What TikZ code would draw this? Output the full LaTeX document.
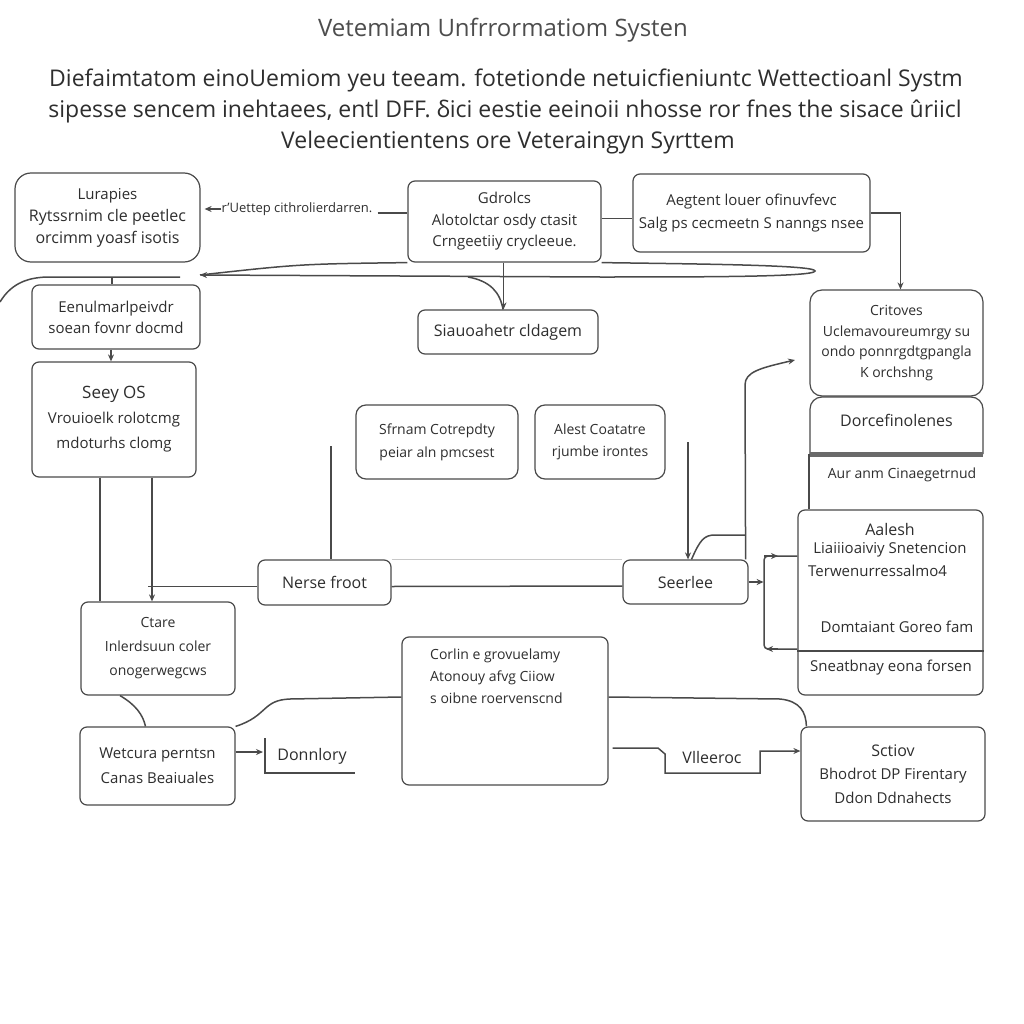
\documentclass[tikz,border=0pt]{standalone}
\usepackage{fontspec}
\setmainfont{Open Sans}
\usetikzlibrary{arrows.meta}

\definecolor{inkgray}{HTML}{2E2E2E}
\definecolor{linegray}{HTML}{4A4A4A}
\definecolor{bargray}{HTML}{6A6A6A}
\definecolor{faintgray}{HTML}{C8C8C8}

\newcommand{\fs}[2]{\fontsize{#1}{#2}\selectfont}

\tikzset{
  box/.style={draw=linegray, line width=1.2pt, rounded corners=7pt,
    align=center, inner sep=0pt, text=inkgray},
  conn/.style={draw=linegray, line width=1.5pt},
  tip/.style={-{Stealth[length=7pt,width=6pt]}},
  lbl/.style={text=inkgray, inner sep=0pt},
}

\begin{document}
\begin{tikzpicture}[x=1pt, y=-1pt]

% page: 1023 x 1024, pixel coordinates, y grows downward
\useasboundingbox (0,0) rectangle (1023,1024);
\fill[white] (0,0) rectangle (1023,1024);

% ── TITLES ───────────────────────────────────────────────────────────────
\node[lbl, text=inkgray!85, font=\fs{24}{28}] (title) at (503,30) {Vetemiam Unfrrormatiom Systen};
\node[lbl, font=\fs{23}{30}] (sub1) at (506,80)
  {Diefaimtatom einoUemiom yeu teeam. fotetionde netuicfieniuntc Wettectioanl Systm};
\node[lbl, font=\fs{23}{30}] (sub2) at (505,111)
  {sipesse sencem inehtaees, entl DFF. δici eestie eeinoii nhosse ror fnes the sisace ûriicl};
\node[lbl, font=\fs{23}{30}] (sub3) at (508,143) {Veleecientientens ore Veteraingyn Syrttem};

% ── TOP ROW ──────────────────────────────────────────────────────────────
\node[box, rounded corners=16pt, minimum width=185pt, minimum height=89pt, font=\fs{16}{22}]
  (lurapies) at (107.5,217.5) {{\fs{15}{22}Lurapies}\\Rytssrnim cle peetlec\\orcimm yoasf isotis};
\node[lbl, font=\fs{13}{16}] (uettep) at (297,209) {r'Uettep cithrolierdarren.};
\node[box, minimum width=193pt, minimum height=81pt, font=\fs{15}{21.5}]
  (gdrolcs) at (504.5,221.5) {Gdrolcs\\Alotolctar osdy ctasit\\Crngeetiiy crycleeue.};
\node[box, minimum width=237pt, minimum height=78pt, font=\fs{15}{23}]
  (aegtent) at (751.5,213) {Aegtent louer ofinuvfevc\\Salg ps cecmeetn S nanngs nsee};

% ── LEFT COLUMN ──────────────────────────────────────────────────────────
\node[box, minimum width=168pt, minimum height=64pt, font=\fs{15}{21}]
  (eenul) at (116,317) {Eenulmarlpeivdr\\soean fovnr docmd};
\node[box, minimum width=164pt, minimum height=115pt, font=\fs{15}{25}]
  (seey) at (114,419.5) {{\fs{17}{25}Seey OS}\\Vrouioelk rolotcmg\\mdoturhs clomg};
\node[box, minimum width=154pt, minimum height=93pt, font=\fs{14}{24}]
  (ctare) at (158,648.5) {Ctare\\Inlerdsuun coler\\onogerwegcws};
\node[box, minimum width=155pt, minimum height=78pt, font=\fs{15}{25}]
  (wetcura) at (157.5,766) {Wetcura perntsn\\Canas Beaiuales};

% ── MIDDLE ───────────────────────────────────────────────────────────────
\node[box, minimum width=180pt, minimum height=44pt, font=\fs{16}{20}]
  (siauo) at (508,332) {Siauoahetr cldagem};
\node[box, rounded corners=10pt, minimum width=162pt, minimum height=74pt, font=\fs{14}{23}]
  (sfrnam) at (437,442) {Sfrnam Cotrepdty\\peiar aln pmcsest};
\node[box, rounded corners=10pt, minimum width=130pt, minimum height=74pt, font=\fs{14}{22}]
  (alest) at (600,442) {Alest Coatatre\\rjumbe irontes};
\node[box, minimum width=133pt, minimum height=45pt, font=\fs{16}{20}]
  (nerse) at (324.5,582.5) {Nerse froot};
\node[box, minimum width=125pt, minimum height=44pt, font=\fs{16}{20}]
  (seerlee) at (685.5,582) {Seerlee};
\node[box, minimum width=206pt, minimum height=148pt] (corlin) at (505,711) {};
\node[lbl, anchor=north west, align=left, font=\fs{14}{22}] (corlintext) at (430,649)
  {Corlin e grovuelamy\\Atonouy afvg Ciiow\\s oibne roervenscnd};
\node[lbl, font=\fs{16}{20}] (donnlory) at (312,756) {Donnlory};
\node[lbl, font=\fs{16}{20}] (vlleeroc) at (712,757) {Vlleeroc};

% ── RIGHT COLUMN ─────────────────────────────────────────────────────────
\node[box, rounded corners=12pt, minimum width=173pt, minimum height=106pt, font=\fs{14}{20.5}]
  (critoves) at (896.5,343) {Critoves\\Uclemavoureumrgy su\\ondo ponnrgdtgpangla\\K orchshng};
\node[minimum width=173pt, minimum height=57pt, inner sep=0pt, outer sep=0pt] (dorce) at (896.5,425.5) {};
\draw[conn, line width=1.2pt, rounded corners=12pt]
  (dorce.south west) -- (dorce.north west) -- (dorce.north east) -- (dorce.south east);
\node[lbl, font=\fs{16}{20}] (dorcetext) at (896.5,420) {Dorcefinolenes};
\fill[bargray] ([yshift=2.5pt]dorce.south west) rectangle ([yshift=-2.5pt]dorce.south east);
\node[lbl, font=\fs{14}{18}] (aur) at (902,475) {Aur anm Cinaegetrnud};
\node[box, minimum width=185pt, minimum height=185pt] (aalesh) at (890.5,602.5) {};
\node[lbl, font=\fs{16}{20}] (aaleshA) at (890,529) {Aalesh};
\node[lbl, font=\fs{15}{20}] (aaleshB) at (890,550) {Liaiiioaiviy Snetencion};
\node[lbl, anchor=west, font=\fs{15}{20}] (aaleshC) at (808,571) {Terwenurressalmo4};
\node[lbl, font=\fs{15}{20}] (aaleshD) at (897,627) {Domtaiant Goreo fam};
\draw[conn] (aalesh.west |- 0,651) -- (aalesh.east |- 0,651);
\node[lbl, font=\fs{15}{20}] (aaleshE) at (891,668) {Sneatbnay eona forsen};
\node[box, minimum width=184pt, minimum height=94pt, font=\fs{15}{23.5}]
  (sctiov) at (893,774) {{\fs{16}{23.5}Sctiov}\\Bhodrot DP Firentary\\Ddon Ddnahects};

% ── CONNECTORS ───────────────────────────────────────────────────────────
\coordinate (lensL) at (200,275);
\coordinate (arcL) at (0,302);
\coordinate (arcR) at (180,277);
\coordinate (nTop) at (331,446);
\coordinate (sTop) at (688,442);
\coordinate (bendTop) at (745,535);
\coordinate (critIn) at (795,360);

\draw[conn,tip] (uettep.west) -- ([xshift=4pt]uettep.west -| lurapies.east);
\draw[conn] ([xshift=5pt]uettep.east) ++(0,4) -- ([yshift=-4pt]uettep.east -| gdrolcs.west);
\draw[conn] ([yshift=3pt]gdrolcs.east) -- ([yshift=3pt]gdrolcs.east -| aegtent.west);
\draw[conn,tip] (aegtent.east) -| ([xshift=4pt]critoves.north);

% long loop under the top row
\draw[conn] (gdrolcs.south west) .. controls (300,264) .. (lensL);
\draw[conn,tip] (gdrolcs.south east) .. controls (700,264) and (815,265) .. (815,271)
  .. controls (815,277) and (700,277) .. (600,277) -- (lensL);
\draw[conn] (arcL) .. controls (12,282) and (30,277) .. (50,277) -- (arcR);
\draw[conn] ([xshift=-4pt]eenul.north |- arcR) -- ([xshift=-4pt]eenul.north);
\draw[conn,tip] ([xshift=-1pt]gdrolcs.south) -- ([xshift=-1pt]gdrolcs.south |- siauo.north);
\draw[conn] (468,277) .. controls (490,281) and (500,292) .. ([xshift=-5pt]siauo.north);

% left column
\draw[conn,tip] ([xshift=-5pt]eenul.south) -- ([xshift=-5pt]eenul.south |- seey.north);
\draw[conn] ([xshift=-14pt]seey.south) -- ([xshift=-14pt]seey.south |- ctare.north);
\draw[conn,tip] ([xshift=38pt]seey.south) -- ([xshift=38pt]seey.south |- ctare.north);
\draw[conn] ([yshift=-4pt]nerse.west) -- ([yshift=-4pt,xshift=34pt]nerse.west -| seey.south);
\draw[conn] ([xshift=-38pt]ctare.south) .. controls (136,705) and (143,715) .. ([xshift=-12pt]wetcura.north);

% middle
\draw[conn] (nTop) -- (nTop |- nerse.north);
\draw[draw=faintgray, line width=1pt] (nerse.north east) -- (seerlee.north west);
\draw[conn] ([yshift=-4pt]nerse.east) -- ([yshift=-4pt]seerlee.west);
\draw[conn,tip] (sTop) -- (sTop |- seerlee.north);
\draw[conn] ([xshift=6pt]seerlee.north) .. controls (700,540) and (704,535) .. (715,535) -- (bendTop);
\draw[conn,tip] ([xshift=-3pt]seerlee.north east) -- (745,385) .. controls (745,372) and (760,368) .. (critIn);

% right column
\draw[conn] ([xshift=-1pt]dorce.south west) -- ([xshift=-1pt]dorce.south west |- aalesh.north);
\draw[conn,tip] (seerlee.east) -- ++(15,0);
\draw[conn, rounded corners=4pt] (aalesh.west |- 0,556) -- (764,556) -- (764,649) -- (aalesh.west |- 0,649);
\draw[conn,tip] (764,556) -- (778,556);
\draw[conn,tip] (778,649) -- (766,649);

% bottom row
\draw[conn,tip] ([yshift=14pt]wetcura.east) -- (263,752);
\draw[conn] (265,738) -- (265,773) -- (355,773);
\draw[conn] (wetcura.north east) .. controls (268,716) and (262,700) .. (290,699) -- ([yshift=14pt]corlin.west);
\draw[conn] ([yshift=14pt]corlin.east) -- (780,699) .. controls (800,701) and (806,712) .. ([xshift=6pt]sctiov.north west);
\draw[conn,tip] ([yshift=-37pt,xshift=4pt]corlin.east) -- (658,748) -- (665,754) -- (665,773)
  -- (760,773) -- (760,751) -- ([yshift=23pt]sctiov.west);

\end{tikzpicture}
\end{document}
